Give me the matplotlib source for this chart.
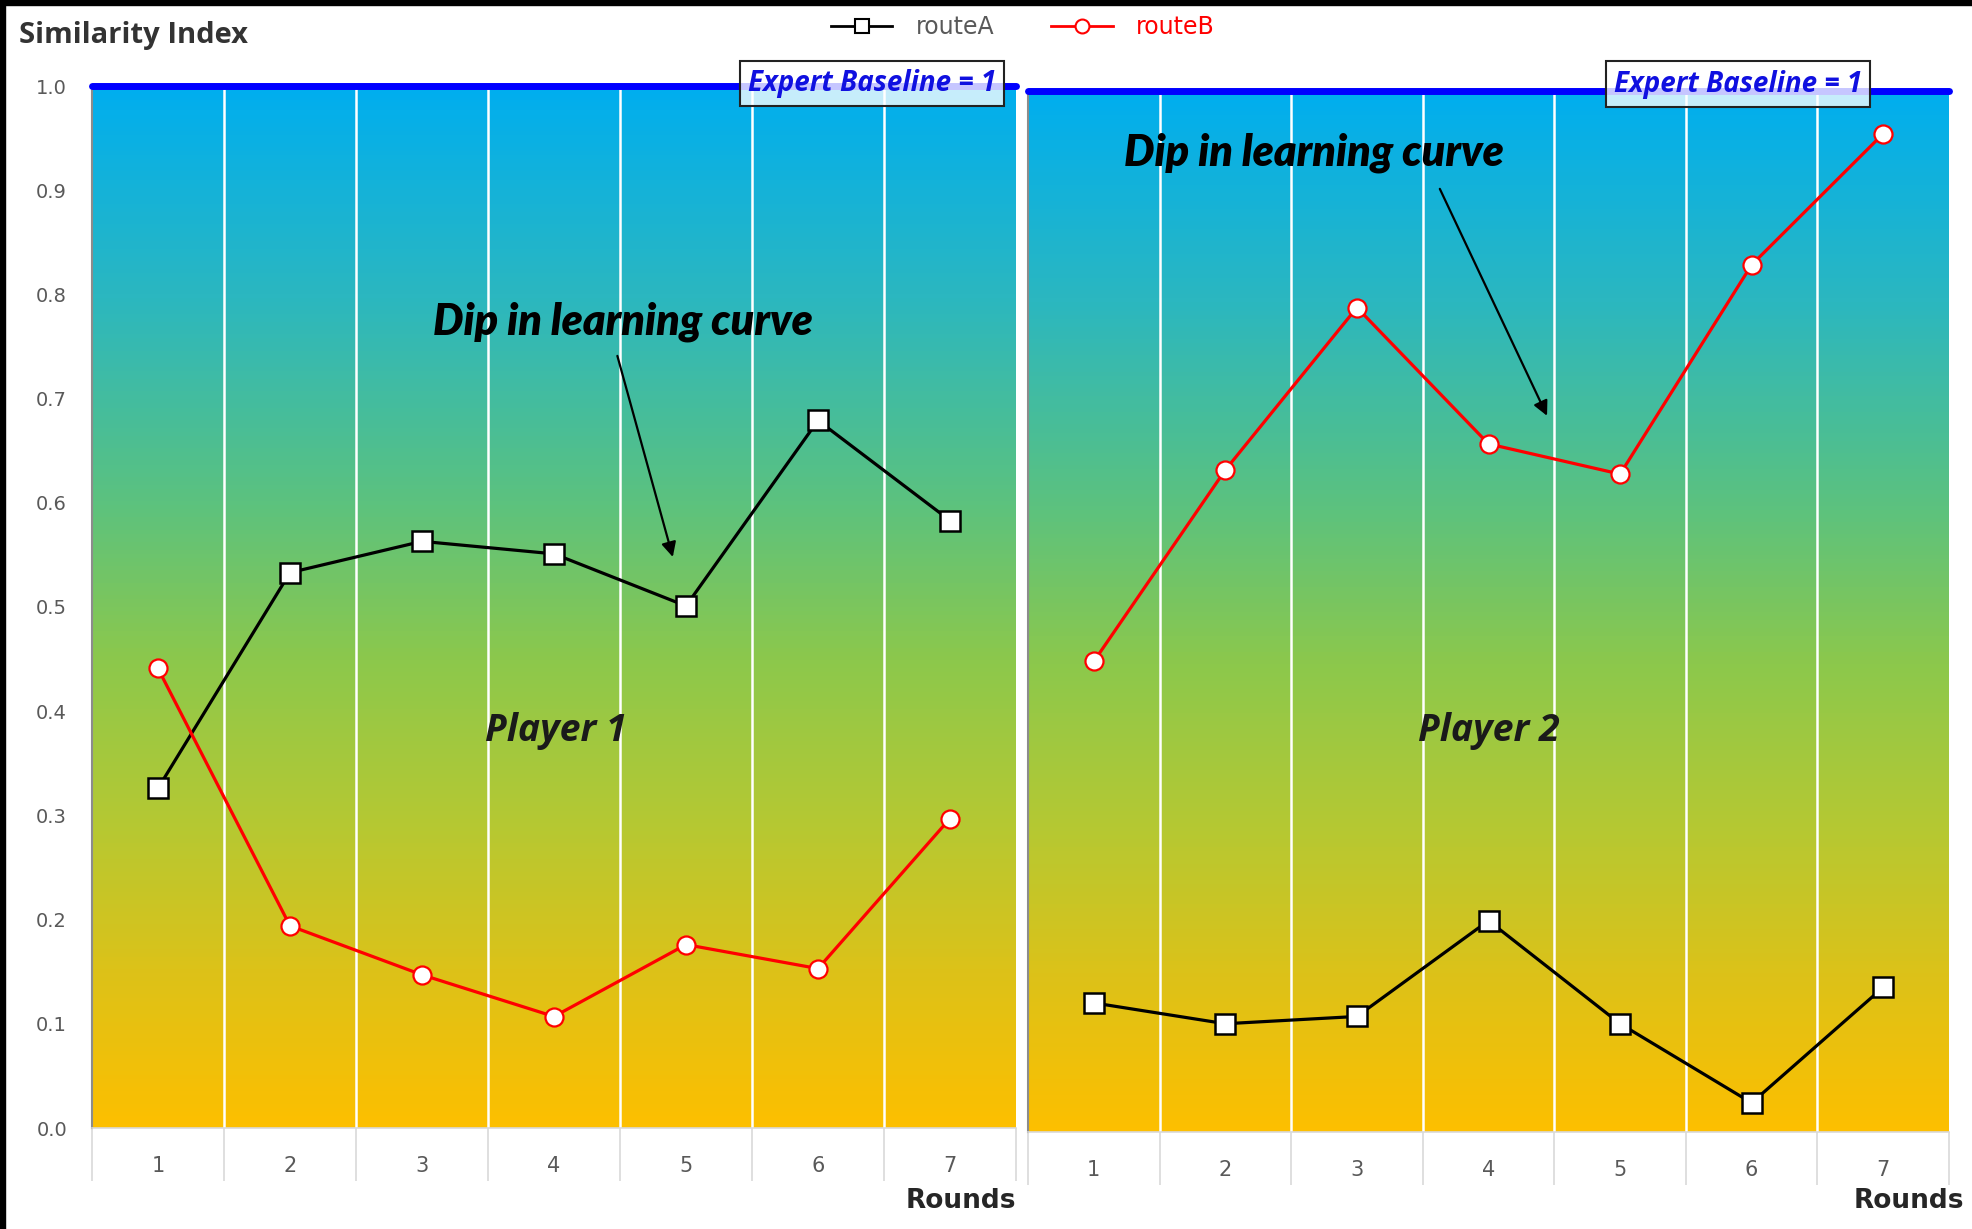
import numpy as np
import matplotlib
matplotlib.use("Agg")
import matplotlib.pyplot as plt
from matplotlib.colors import LinearSegmentedColormap
from matplotlib.lines import Line2D
from matplotlib.patches import Rectangle

# ---- data ----
rounds = [1, 2, 3, 4, 5, 6, 7]
p1_routeA = [0.326, 0.533, 0.563, 0.551, 0.501, 0.679, 0.583]
p1_routeB = [0.441, 0.194, 0.147, 0.107, 0.176, 0.153, 0.297]
p2_routeA = [0.124, 0.104, 0.111, 0.203, 0.104, 0.028, 0.139]
p2_routeB = [0.452, 0.636, 0.792, 0.661, 0.632, 0.833, 0.959]
y_ticks = [0.0, 0.1, 0.2, 0.3, 0.4, 0.5, 0.6, 0.7, 0.8, 0.9, 1.0]
baseline = 1.0
series_names = ["routeA", "routeB"]

W, H = 1972, 1229
fig = plt.figure(figsize=(W / 100, H / 100), dpi=100)
fig.patch.set_facecolor("white")

narrow = ["Liberation Sans Narrow", "DejaVu Sans"]
bold_font = ["Open Sans", "DejaVu Sans"]
ital_font = ["Lato", "DejaVu Sans"]

grad = LinearSegmentedColormap.from_list(
    "bg",
    [(0.0, "#FDBF00"), (0.15, "#DCC219"), (0.30, "#B3C934"), (0.45, "#8CC84C"),
     (0.60, "#5CC27E"), (0.80, "#2BB7C0"), (1.0, "#00AEEF")])


def px_axes(x0, x1, ytop, ybot):
    return fig.add_axes([x0 / W, 1 - ybot / H, (x1 - x0) / W, (ybot - ytop) / H])


ax1 = px_axes(92, 1016, 86, 1128)
ax2 = px_axes(1028, 1949, 91, 1132)

# per panel: axes, series, player label + position, note text position,
# arrow start, arrow tip, baseline box anchor, "Rounds" anchor
panels = [
    (ax1, p1_routeA, p1_routeB, "Player 1", (4.01, 0.381),
     (4.52, 0.774), (4.48, 0.741), (4.90, 0.548),
     (1 - 20 / 924, 1.0024), (1.0, -0.070)),
    (ax2, p2_routeA, p2_routeB, "Player 2", (4.00, 0.385),
     (2.67, 0.941), (3.63, 0.906), (4.445, 0.688),
     (1 - 87 / 921, 1.0067), (1.016, -0.066)),
]

for i, (ax, ra, rb, pname, ppos, tpos, astart, atip, bpos, rpos) in enumerate(panels):
    ax.set_xlim(0.5, 7.5)
    ax.set_ylim(0, 1)
    grad_img = np.linspace(0, 1, 256).reshape(-1, 1)
    ax.imshow(grad_img, cmap=grad, origin="lower", aspect="auto",
              extent=[0.5, 7.5, 0, 1], zorder=0)
    for xb in np.arange(1.5, 7.5, 1.0):
        ax.axvline(xb, color="white", lw=1.8, zorder=1)

    ax.axhline(baseline, color="#0000FF", lw=5, solid_capstyle="round",
               clip_on=False, zorder=3)

    ax.plot(rounds, ra, color="black", lw=2.3, marker="s", ms=14,
            mfc="white", mec="black", mew=1.8, zorder=5)
    ax.plot(rounds, rb, color="#FF0000", lw=2.3, marker="o", ms=13,
            mfc="white", mec="#FF0000", mew=1.6, zorder=5)

    ax.text(ppos[0], ppos[1], pname, ha="center", va="center", fontsize=27,
            fontweight="bold", fontstyle="italic", family=bold_font,
            color="#1a1a1a", zorder=6)

    ax.text(tpos[0], tpos[1], "Dip in learning curve", ha="center",
            va="center", fontsize=31, fontweight="heavy", fontstyle="italic",
            family=ital_font, color="black", zorder=6)
    ax.annotate("", xy=atip, xytext=astart, zorder=6,
                arrowprops=dict(arrowstyle="-|>", lw=1.6, color="black",
                                mutation_scale=22, shrinkA=0, shrinkB=0))

    ax.text(bpos[0], bpos[1], "Expert Baseline = 1", transform=ax.transAxes,
            ha="right", va="center", fontsize=20, fontweight="bold",
            fontstyle="italic", family=bold_font, color="#1010E0", zorder=7,
            clip_on=False,
            bbox=dict(boxstyle="square,pad=0.3", fc=(1, 1, 1, 0.78),
                      ec="#222222", lw=1.5))

    # axes styling
    for s in ["top", "right"]:
        ax.spines[s].set_visible(False)
    ax.spines["left"].set_color("#8c8c8c")
    ax.spines["left"].set_linewidth(1.5)
    ax.spines["bottom"].set_color("#d9d9d9")
    ax.spines["bottom"].set_linewidth(1.2)

    ax.set_xticks(rounds)
    ax.set_xticklabels([str(r) for r in rounds], fontsize=15, color="#595959",
                       family=narrow)
    ax.set_xticks(np.arange(0.5, 8.0, 1.0), minor=True)
    ax.tick_params(axis="x", which="major", length=0, pad=20)
    ax.tick_params(axis="x", which="minor", length=38, width=1.2,
                   color="#d9d9d9")

    ax.set_yticks(y_ticks)
    if i == 0:
        ax.set_yticklabels([f"{v:.1f}" for v in y_ticks], fontsize=14,
                           color="#595959", family=narrow)
        ax.tick_params(axis="y", length=0, pad=18)
    else:
        ax.tick_params(axis="y", length=0, labelleft=False)

    ax.text(rpos[0], rpos[1], "Rounds", transform=ax.transAxes, ha="right",
            va="center", fontsize=19, fontweight="bold", family=narrow,
            color="#262626", clip_on=False)

fig.text(19 / W, 1 - 36 / H, "Similarity Index", ha="left", va="center",
         fontsize=21, fontweight="bold", family=bold_font, color="#333333")

handles = [
    Line2D([], [], color="black", lw=2, marker="s", ms=10, mfc="white",
           mec="black", mew=1.5),
    Line2D([], [], color="#FF0000", lw=2, marker="o", ms=10, mfc="white",
           mec="#FF0000", mew=1.5),
]
leg = fig.legend(handles, series_names, loc="center", ncol=2,
                 bbox_to_anchor=(1023 / W, 1 - 27 / H), frameon=False,
                 prop={"family": narrow, "size": 17}, handlelength=2.6,
                 columnspacing=2.4, handletextpad=1.0)
for t, c in zip(leg.get_texts(), ["#595959", "#FF0000"]):
    t.set_color(c)

# black frame strips along top and left edges
fig.add_artist(Rectangle((0, 1 - 5 / H), 1, 5 / H, transform=fig.transFigure,
                         color="black", zorder=10))
fig.add_artist(Rectangle((0, 0), 5 / W, 1, transform=fig.transFigure,
                         color="black", zorder=10))

fig.savefig("out.png", dpi=100)
